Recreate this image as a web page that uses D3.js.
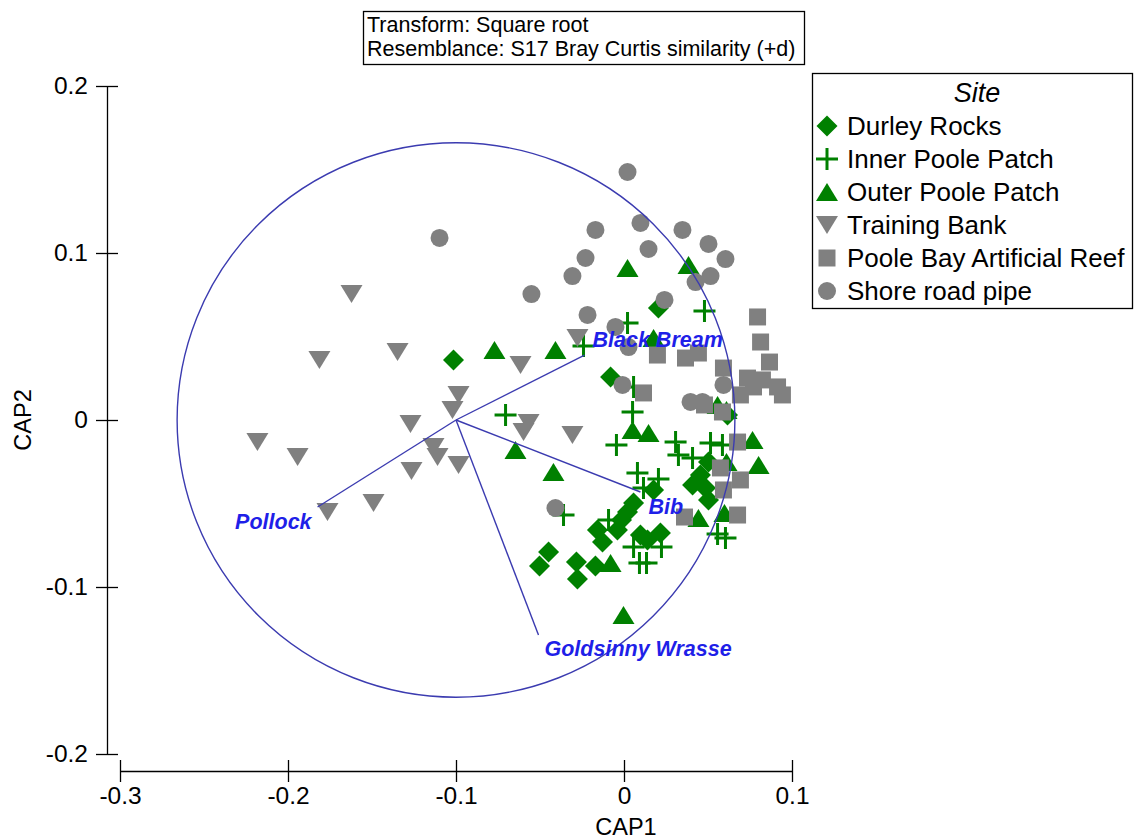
<!DOCTYPE html>
<html>
<head>
<meta charset="utf-8">
<script src="https://cdn.jsdelivr.net/npm/d3@7/dist/d3.min.js"></script>
<style>
  html, body { margin: 0; padding: 0; background: #fff; }
  svg { display: block; font-family: "Liberation Sans", Arial, sans-serif; }
</style>
</head>
<body>
<svg id="chart" width="1135" height="839"></svg>
<script>
// ---------------- DATA ----------------
const sites = ["Durley Rocks", "Inner Poole Patch", "Outer Poole Patch", "Training Bank", "Poole Bay Artificial Reef", "Shore road pipe"];

const durleyRocks = [
  [-0.1015, 0.0359], [-0.0080, 0.0257], [0.0205, 0.0671], [0.0616, 0.0030], [0.0503, -0.0251],
  [0.0408, -0.0389], [0.0485, -0.0407], [0.0503, -0.0479], [0.0455, -0.0329], [0.0176, -0.0419],
  [0.0057, -0.0497], [0.0021, -0.0551], [-0.0015, -0.0599], [-0.0039, -0.0659], [-0.0158, -0.0659],
  [-0.0128, -0.0731], [0.0098, -0.0689], [0.0217, -0.0677], [0.0140, -0.0719], [-0.0449, -0.0790],
  [-0.0503, -0.0874], [-0.0283, -0.0850], [-0.0170, -0.0874], [-0.0277, -0.0952]
];
const innerPoolePatch = [
  [-0.0241, 0.0443], [0.0021, 0.0581], [0.0479, 0.0653], [0.0057, 0.0198], [0.0051, 0.0048],
  [-0.0705, 0.0030], [-0.0045, -0.0150], [0.0307, -0.0132], [0.0515, -0.0138], [0.0586, -0.0150],
  [0.0324, -0.0210], [0.0408, -0.0228], [0.0080, -0.0317], [0.0205, -0.0353], [0.0116, -0.0407],
  [-0.0360, -0.0569], [-0.0092, -0.0599], [0.0057, -0.0760], [0.0223, -0.0760], [0.0092, -0.0856],
  [0.0134, -0.0856], [0.0557, -0.0683], [0.0604, -0.0707]
];
const outerPoolePatch = [
  [-0.0771, 0.0419], [-0.0408, 0.0419], [0.0021, 0.0910], [0.0384, 0.0928], [0.0176, 0.0491],
  [0.0557, 0.0090], [0.0610, 0.0060], [0.0051, -0.0060], [0.0146, -0.0078], [-0.0646, -0.0180],
  [-0.0420, -0.0311], [0.0765, -0.0120], [0.0801, -0.0269], [0.0443, -0.0587], [0.0598, -0.0557],
  [-0.0080, -0.0856], [-0.0003, -0.1168], [0.0610, -0.0251]
];
const trainingBank = [
  [-0.1622, 0.0754], [-0.1813, 0.0359], [-0.1348, 0.0407], [-0.0985, 0.0150], [-0.1021, 0.0060],
  [-0.1271, -0.0024], [-0.2182, -0.0132], [-0.1943, -0.0222], [-0.1134, -0.0162], [-0.1110, -0.0222],
  [-0.0985, -0.0269], [-0.1265, -0.0305], [-0.1491, -0.0497], [-0.1765, -0.0551], [-0.0616, 0.0329],
  [-0.0568, -0.0018], [-0.0598, -0.0072], [-0.0307, -0.0090], [-0.0277, 0.0491]
];
const pooleBayArtificialReef = [
  [0.0795, 0.0617], [0.0813, 0.0467], [0.0866, 0.0347], [0.0199, 0.0389], [0.0366, 0.0371],
  [0.0443, 0.0401], [0.0592, 0.0311], [0.0735, 0.0251], [0.0771, 0.0198], [0.0693, 0.0150],
  [0.0914, 0.0198], [0.0943, 0.0150], [0.0824, 0.0240], [0.0116, 0.0162], [0.0676, -0.0132],
  [0.0574, -0.0287], [0.0693, -0.0359], [0.0592, -0.0419], [0.0676, -0.0569], [0.0360, -0.0581],
  [0.0586, 0.0048], [0.0479, 0.0090]
];
const shoreRoadPipe = [
  [0.0021, 0.1485], [-0.0170, 0.1138], [0.0098, 0.1180], [0.0348, 0.1138], [-0.0229, 0.0970],
  [0.0146, 0.1024], [0.0503, 0.1054], [0.0604, 0.0964], [-0.0307, 0.0862], [0.0515, 0.0862],
  [0.0426, 0.0826], [-0.0551, 0.0754], [0.0241, 0.0719], [-0.0217, 0.0629], [-0.0051, 0.0557],
  [0.0027, 0.0437], [0.0592, 0.0210], [0.0396, 0.0108], [0.0467, 0.0108], [-0.0009, 0.0210],
  [-0.1098, 0.1090], [-0.0408, -0.0527]
];

// species vectors (end points), origin and circle radius
const vectorOrigin = [-0.1, 0];
const vectorNames = ["Black Bream", "Pollock", "Bib", "Goldsinny Wrasse"];
const vectorEnds = [[-0.0235, 0.0389], [-0.1824, -0.0521], [0.0098, -0.0431], [-0.0509, -0.1287]];
const circleRadius = 0.1660;

const xTicks = [-0.3, -0.2, -0.1, 0, 0.1];
const yTicks = [0.2, 0.1, 0, -0.1, -0.2];
const xTickLabels = ["-0.3", "-0.2", "-0.1", "0", "0.1"];
const yTickLabels = ["0.2", "0.1", "0", "-0.1", "-0.2"];
const titleLines = ["Transform: Square root", "Resemblance: S17 Bray Curtis similarity (+d)"];

// ---------------- SCALES ----------------
const svg = d3.select("#chart");
const x = d3.scaleLinear().domain([-0.3, 0.1]).range([120, 792]);
const y = d3.scaleLinear().domain([-0.2, 0.2]).range([754, 86]);

const GREEN = "#008000", GRAY = "#808080";
const VEC = "#3b3bb0", VLAB = "#1f1fe8";

// custom symbol types
const diamond = { draw(ctx, s) { const r = s; ctx.moveTo(0, -r); ctx.lineTo(r, 0); ctx.lineTo(0, r); ctx.lineTo(-r, 0); ctx.closePath(); } };
const triUp = { draw(ctx, s) { const w = s, h = s * 0.82; ctx.moveTo(0, -h); ctx.lineTo(w, h); ctx.lineTo(-w, h); ctx.closePath(); } };
const triDown = { draw(ctx, s) { const w = s, h = s * 0.82; ctx.moveTo(0, h); ctx.lineTo(w, -h); ctx.lineTo(-w, -h); ctx.closePath(); } };
const square = { draw(ctx, s) { ctx.rect(-s, -s, 2 * s, 2 * s); } };
const circ = { draw(ctx, s) { ctx.moveTo(s, 0); ctx.arc(0, 0, s, 0, 2 * Math.PI); } };
const plus = { draw(ctx, s) { ctx.moveTo(-s, 0); ctx.lineTo(s, 0); ctx.moveTo(0, -s); ctx.lineTo(0, s); } };

const groups = [
  { name: sites[0], data: durleyRocks, type: diamond, size: 10.5, color: GREEN, stroke: false },
  { name: sites[1], data: innerPoolePatch, type: plus, size: 11, color: GREEN, stroke: true },
  { name: sites[2], data: outerPoolePatch, type: triUp, size: 11, color: GREEN, stroke: false },
  { name: sites[3], data: trainingBank, type: triDown, size: 11, color: GRAY, stroke: false },
  { name: sites[4], data: pooleBayArtificialReef, type: square, size: 8.5, color: GRAY, stroke: false },
  { name: sites[5], data: shoreRoadPipe, type: circ, size: 9, color: GRAY, stroke: false }
];

function drawSym(sel, g) {
  sel.attr("d", d3.symbol().type(g.type).size(g.size))
     .attr("fill", g.stroke ? "none" : g.color)
     .attr("stroke", g.stroke ? g.color : "none")
     .attr("stroke-width", g.stroke ? 3 : 0);
}

// ---------------- AXES ----------------
const yAxis = d3.axisLeft(y).tickValues(yTicks).tickSize(0).tickFormat((d, i) => yTickLabels[i]);
const yg = svg.append("g").attr("transform", "translate(107,0)").call(yAxis);
yg.select(".domain").attr("stroke", "#000").attr("stroke-width", 1.3);
yg.selectAll(".tick line").remove();
yg.selectAll(".tick").append("line").attr("x1", -11).attr("x2", 11).attr("stroke", "#000").attr("stroke-width", 1.3);
yg.selectAll(".tick text").attr("x", -19).attr("font-size", 24.5).attr("fill", "#000")
  .attr("font-family", "Liberation Sans, Arial, sans-serif");

const xAxis = d3.axisBottom(x).tickValues(xTicks).tickSize(0).tickFormat((d, i) => xTickLabels[i]);
const xg = svg.append("g").attr("transform", "translate(0,771)").call(xAxis);
xg.select(".domain").attr("stroke", "#000").attr("stroke-width", 1.3);
xg.selectAll(".tick line").remove();
xg.selectAll(".tick").append("line").attr("y1", -11).attr("y2", 11).attr("stroke", "#000").attr("stroke-width", 1.3);
xg.selectAll(".tick text").attr("y", 16).attr("font-size", 24.5).attr("fill", "#000")
  .attr("font-family", "Liberation Sans, Arial, sans-serif");

svg.append("text").attr("x", x(-0.1) + 170).attr("y", 835).attr("text-anchor", "middle")
  .attr("font-size", 23.5).text("CAP1");
svg.append("text").attr("transform", `translate(31,${y(0)}) rotate(-90)`).attr("text-anchor", "middle")
  .attr("font-size", 23.5).text("CAP2");

// ---------------- POINTS ----------------
groups.forEach(g => {
  svg.append("g").selectAll("path").data(g.data).join("path")
    .attr("transform", d => `translate(${x(d[0])},${y(d[1])})`)
    .call(sel => drawSym(sel, g));
});

// ---------------- CIRCLE & VECTORS ----------------
svg.append("ellipse")
  .attr("cx", x(vectorOrigin[0])).attr("cy", y(vectorOrigin[1]))
  .attr("rx", x(vectorOrigin[0] + circleRadius) - x(vectorOrigin[0]))
  .attr("ry", y(vectorOrigin[1]) - y(vectorOrigin[1] + circleRadius))
  .attr("fill", "none").attr("stroke", VEC).attr("stroke-width", 1.4);

svg.append("g").selectAll("line").data(vectorEnds).join("line")
  .attr("x1", x(vectorOrigin[0])).attr("y1", y(vectorOrigin[1]))
  .attr("x2", d => x(d[0])).attr("y2", d => y(d[1]))
  .attr("stroke", VEC).attr("stroke-width", 1.4);

const labelOffsets = [[8, -8, "start"], [-6, 22, "end"], [8, 22, "start"], [6, 21, "start"]];
svg.append("g").selectAll("text").data(vectorEnds).join("text")
  .attr("x", (d, i) => x(d[0]) + labelOffsets[i][0])
  .attr("y", (d, i) => y(d[1]) + labelOffsets[i][1])
  .attr("text-anchor", (d, i) => labelOffsets[i][2])
  .attr("font-size", 21.5).attr("font-weight", "bold").attr("font-style", "italic")
  .attr("fill", VLAB).text((d, i) => vectorNames[i]);

// ---------------- TITLE BOX ----------------
svg.append("rect").attr("x", 363.5).attr("y", 11.5).attr("width", 441).attr("height", 53)
  .attr("fill", "#fff").attr("stroke", "#000").attr("stroke-width", 1.3);
svg.append("g").selectAll("text").data(titleLines).join("text")
  .attr("x", 367).attr("y", (d, i) => 32 + i * 24).attr("font-size", 21.5).attr("fill", "#000").text(d => d);

// ---------------- LEGEND ----------------
svg.append("rect").attr("x", 812.5).attr("y", 73.5).attr("width", 320).attr("height", 235)
  .attr("fill", "#fff").attr("stroke", "#000").attr("stroke-width", 1.3);
svg.append("text").attr("x", 977).attr("y", 102).attr("text-anchor", "middle")
  .attr("font-size", 27).attr("font-style", "italic").text("Site");
const lg = svg.append("g").selectAll("g").data(groups).join("g")
  .attr("transform", (d, i) => `translate(0,${135 + i * 33})`);
lg.append("path").attr("transform", "translate(827,-9)").each(function (g) { drawSym(d3.select(this), g); });
lg.append("text").attr("x", 847).attr("y", 0).attr("font-size", 26).text(d => d.name);
</script>
</body>
</html>
